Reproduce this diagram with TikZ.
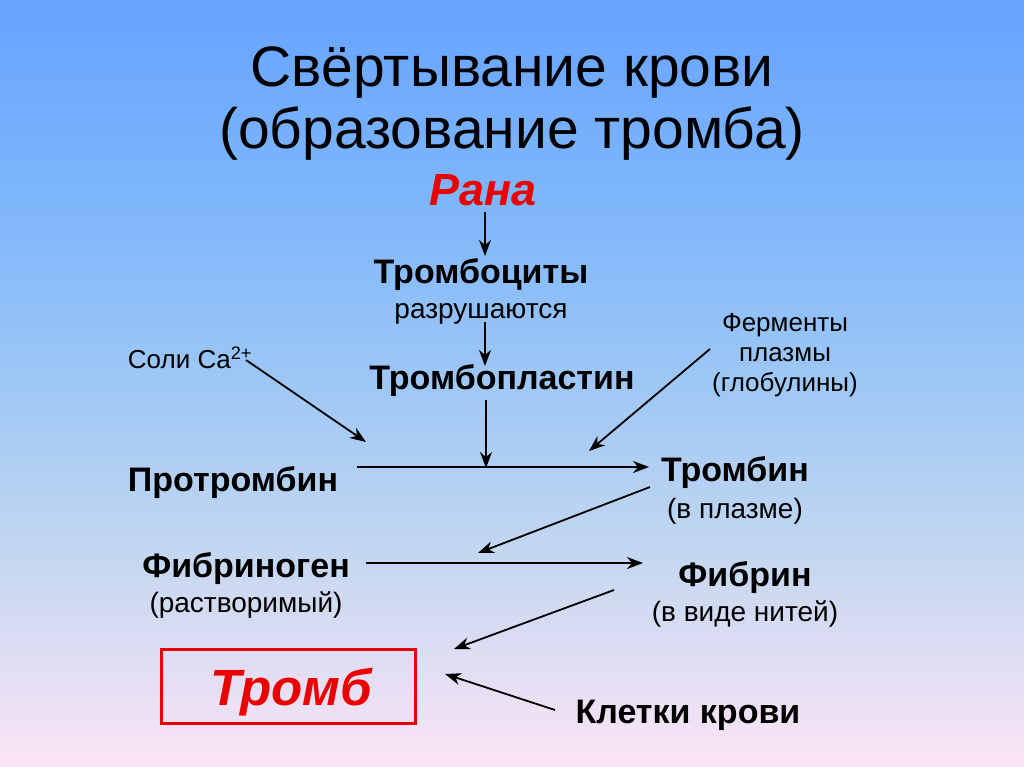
\documentclass[tikz,border=0pt]{standalone}
\usepackage{fontspec}
\setmainfont{Liberation Sans}
\usetikzlibrary{arrows.meta}
\definecolor{bgA}{RGB}{102,163,255}
\definecolor{bgB}{RGB}{130,185,250}
\definecolor{bgC}{RGB}{160,200,245}
\definecolor{bgD}{RGB}{195,215,240}
\definecolor{bgE}{RGB}{252,228,246}
\definecolor{redtxt}{RGB}{235,0,0}
\pgfdeclareverticalshading{bgshade}{100bp}{color(0bp)=(bgE); color(25bp)=(bgE); color(39bp)=(bgD); color(49.5bp)=(bgC); color(60bp)=(bgB); color(75bp)=(bgA); color(100bp)=(bgA)}
\tikzset{
  title/.style={font=\fontsize{57}{62}\selectfont, text=black, align=center},
  boldlbl/.style={font=\fontsize{34}{36}\selectfont\bfseries, text=black, inner sep=0pt},
  reglbl/.style={font=\fontsize{28}{30}\selectfont, text=black, inner sep=0pt},
  smalllbl/.style={font=\fontsize{26}{30}\selectfont, text=black, align=center, inner sep=0pt},
  calbl/.style={font=\fontsize{26}{30}\selectfont, text=black, inner sep=0pt},
  redlbl/.style={font=\fontsize{45}{48}\selectfont\bfseries\itshape, text=redtxt, inner sep=0pt},
  bigred/.style={font=\fontsize{51}{54}\selectfont\bfseries\itshape, text=redtxt, inner sep=0pt},
  conn/.style={draw=black, line width=1.8pt, -{Stealth[length=16pt,width=12pt,inset=5pt]}},
  redbox/.style={draw=redtxt, line width=3pt, minimum width=254pt, minimum height=74pt, inner sep=0pt}
}
\begin{document}
\begin{tikzpicture}[x=1pt,y=-1pt]
\useasboundingbox (0,0) rectangle (1024,767);
\shade[shading=bgshade] (0,0) rectangle (1024,767);
% title
\node[title] (t1) at (512,73) {Свёртывание крови};
\node[title] (t2) at (512,134) {(образование тромба)};
% nodes
\node[redlbl] (rana) at (483,190) {Рана};
\node[boldlbl] (trc) at (481,275) {Тромбоциты};
\node[reglbl] (razr) at (481,314) {разрушаются};
\node[boldlbl] (trpl) at (502,381) {Тромбопластин};
\node[calbl] (ca) at (190,358) {Соли Ca\textsuperscript{2+}};
\node[smalllbl] (ferm) at (785,355) {Ферменты\\плазмы\\(глобулины)};
\node[boldlbl] (protr) at (233,483) {Протромбин};
\node[boldlbl] (trombin) at (735,473) {Тромбин};
\node[reglbl] (vpl) at (735,511) {(в плазме)};
\node[boldlbl] (fgen) at (246,569) {Фибриноген};
\node[reglbl] (rastv) at (246,605) {(растворимый)};
\node[boldlbl] (fibrin) at (745,578) {Фибрин};
\node[reglbl] (niti) at (745,614) {(в виде нитей)};
\node[redbox] (box) at (288,686) {};
\node[bigred] (tromb) at (291,692) {Тромб};
\node[boldlbl] (klet) at (688,715) {Клетки крови};
% connector coordinates
\coordinate (a1s) at (485,212);
\coordinate (a1e) at (485,256);
\coordinate (a2s) at (485,322);
\coordinate (a2e) at (485,366);
\coordinate (a3s) at (486,400);
\coordinate (a3e) at (486,468);
\coordinate (cas) at (246,360);
\coordinate (cae) at (366,442);
\coordinate (fes) at (710,349);
\coordinate (fee) at (589,451);
\coordinate (hs) at (357,467);
\coordinate (he) at (649,467);
\coordinate (ts) at (650,487);
\coordinate (te) at (478,553);
\coordinate (fgs) at (366,563);
\coordinate (fge) at (643,563);
\coordinate (fbs) at (614,590);
\coordinate (fbe) at (454,649);
\coordinate (ks) at (555,710);
\coordinate (ke) at (445,674);
% connectors
\draw[conn] (a1s) -- (a1e);
\draw[conn] (a2s) -- (a2e);
\draw[conn] (a3s) -- (a3e);
\draw[conn] (cas) -- (cae);
\draw[conn] (fes) -- (fee);
\draw[conn] (hs) -- (he);
\draw[conn] (ts) -- (te);
\draw[conn] (fgs) -- (fge);
\draw[conn] (fbs) -- (fbe);
\draw[conn] (ks) -- (ke);
\end{tikzpicture}
\end{document}
